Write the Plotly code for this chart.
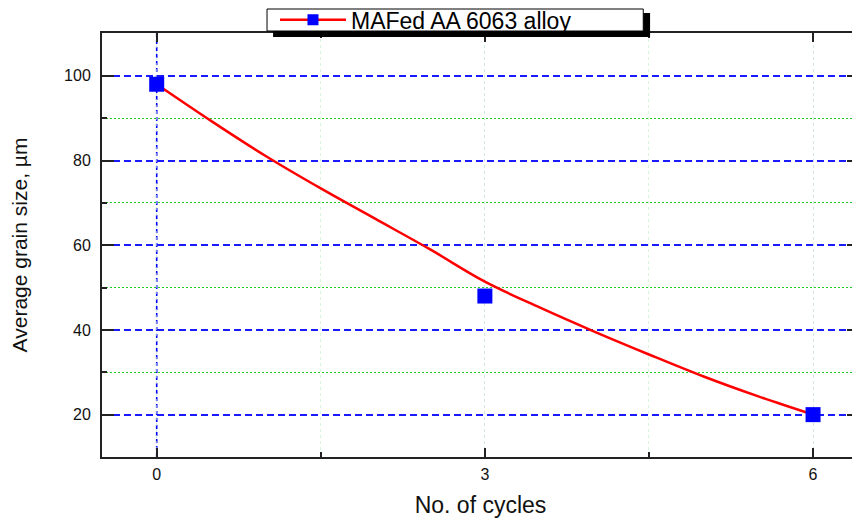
import plotly.graph_objects as go

# Measured data
cycles = [0, 3, 6]
grain_size = [98, 48, 20]

# Fitted trend curve
fit_x = [0, 0.5, 1, 1.5, 2, 2.5, 3, 3.5, 4, 4.5, 5, 5.5, 6]
fit_y = [98, 89.3, 81.0, 73.4, 66.2, 59.0, 51.4, 45.3, 39.6, 34.2, 29.0, 24.3, 20.0]

series_name = "MAFed AA 6063 alloy"
x_ticks = [0, 3, 6]
y_ticks = [20, 40, 60, 80, 100]

font = "Liberation Sans, Arial, sans-serif"

fig = go.Figure()
fig.add_trace(go.Scatter(
    x=fit_x, y=fit_y, mode="lines", line=dict(color="#ff0000", width=2.5, shape="spline"),
    showlegend=False, hoverinfo="skip"))
fig.add_trace(go.Scatter(
    x=cycles, y=grain_size, mode="markers",
    marker=dict(symbol="square", size=15, color="#0000ff", line=dict(width=0)),
    showlegend=False))
# legend entry (line + square)
fig.add_trace(go.Scatter(
    x=[None], y=[None], mode="lines+markers", name=series_name,
    line=dict(color="#ff0000", width=2.5),
    marker=dict(symbol="square", size=11, color="#0000ff")))

fig.add_vline(x=cycles[0], line=dict(color="#0000ff", width=1.6, dash="4px,3px"), layer="below")

axis_common = dict(
    showline=True, linecolor="#222222", linewidth=2, mirror="allticks",
    ticks="inside", tickcolor="#222222", tickwidth=2,
    tickfont=dict(family=font, size=16, color="#111111"),
    zeroline=False,
)

fig.update_xaxes(
    range=[-0.5, 6.42], tickvals=x_ticks, ticklen=9,
    showgrid=True, gridcolor="rgba(200,210,240,0.45)", griddash="dot", gridwidth=1,
    minor=dict(dtick=1.5, tick0=1.5, ticks="inside", ticklen=5, tickwidth=1.5, tickcolor="#222222",
               showgrid=True, gridcolor="rgba(150,230,150,0.35)", griddash="dot"),
    title=dict(text="No. of cycles", font=dict(family=font, size=23, color="#111111"), standoff=15),
    ticklabelstandoff=2,
    **axis_common)

fig.update_yaxes(
    range=[10, 110.1], tickvals=y_ticks, ticklen=12,
    showgrid=True, gridcolor="#1a1aff", griddash="7px,4px", gridwidth=1.6,
    minor=dict(dtick=20, tick0=30, ticks="inside", ticklen=5, tickwidth=1.5, tickcolor="#222222",
               showgrid=True, gridcolor="#22cc22", griddash="2px,2px", gridwidth=1.4),
    title=dict(text="Average grain size, µm", font=dict(family=font, size=21, color="#111111"), standoff=32),
    ticklabelstandoff=6,
    **axis_common)

# legend frame with drop shadow
fig.add_shape(type="rect", xref="paper", yref="paper",
              x0=0.226, x1=0.724, y0=0.9906, y1=1.0472,
              fillcolor="#000000", line=dict(width=0), layer="above")
fig.add_shape(type="rect", xref="paper", yref="paper",
              x0=0.218, x1=0.715, y0=1.0047, y1=1.0566,
              fillcolor="#ffffff", line=dict(color="#000000", width=1), layer="above")

# page body has an 8px margin: size the figure so the plot area lands where the reference has it
fig.update_layout(
    width=852, height=514,
    margin=dict(l=94, r=1, t=25, b=65, autoexpand=False),
    plot_bgcolor="white", paper_bgcolor="white",
    showlegend=True,
    legend=dict(x=0.2285, xanchor="left", y=1.031, yanchor="middle",
                bgcolor="rgba(0,0,0,0)", borderwidth=0,
                font=dict(family=font, size=23, color="#000000"),
                itemwidth=66, tracegroupgap=0),
)

fig.write_html("out.html")
